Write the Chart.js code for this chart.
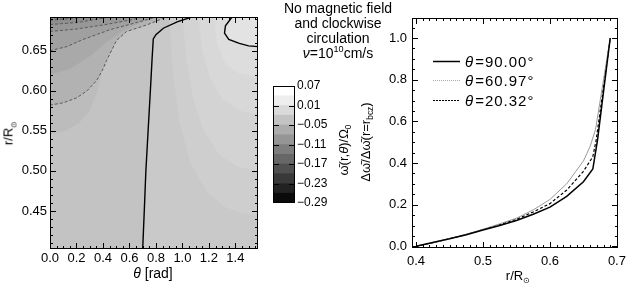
<!DOCTYPE html>
<html><head><meta charset="utf-8">
<script src="https://cdn.jsdelivr.net/npm/chart.js@4"></script>
<style>
html,body{margin:0;padding:0;background:#fff;}
#wrap{position:relative;width:632px;height:285px;overflow:hidden;font-family:"Liberation Sans",Arial,sans-serif;color:#000;}
.box{position:absolute;top:0;}
.t{position:absolute;white-space:nowrap;font-size:13px;line-height:1;}
.rot{transform:translate(-50%,-50%) rotate(-90deg);}
.ctr{transform:translate(-50%,-50%);}
.title{position:absolute;left:338px;top:1px;transform:translateX(-50%);text-align:center;font-size:14px;line-height:15px;white-space:nowrap;}
sub,sup{font-size:65%;line-height:0;}
i{font-style:italic;}
</style></head><body>
<div id="wrap">
  <div class="box" style="left:0;width:262px;height:285px"><canvas id="c1" width="262" height="285"></canvas></div>
  <div class="box" style="left:262px;width:78px;height:285px"><canvas id="c2" width="78" height="285"></canvas></div>
  <div class="box" style="left:350px;width:282px;height:285px"><canvas id="c3" width="282" height="285"></canvas></div>
  <div class="title">No magnetic field<br>and clockwise<br>circulation<br><i>ν</i>=10<sup>10</sup>cm/s</div>
  <div class="t ctr" style="left:153px;top:273px;font-size:14px"><i>θ</i> [rad]</div>
  <div class="t rot" style="left:8px;top:133px;font-size:13px">r/R<sub>⊙</sub></div>
  <div class="t ctr" style="left:518px;top:275px;font-size:13px">r/R<sub>⊙</sub></div>
  <div class="t rot" style="left:365px;top:142px;font-size:13px">Δω̄/Δω̄(r=r<sub>bcz</sub>)</div>
  <div class="t rot" style="left:343px;top:150px;font-size:13px">ω̄(r,<i>θ</i>)/Ω<sub>0</sub></div>
</div>
<script>
// ---------- data: left panel (contour lines in theta [rad], r/Rsun) ----------
const thetaRange = [0, 1.5708];
const rRange = [0.4026, 0.692];
const thetaTicks = [0.0, 0.2, 0.4, 0.6, 0.8, 1.0, 1.2, 1.4];
const rTicks = [0.45, 0.50, 0.55, 0.60, 0.65];

const zeroLine = [[0.700,0.4026],[0.712,0.45],[0.724,0.50],[0.741,0.55],[0.758,0.60],[0.771,0.64],[0.780,0.6646],[0.80,0.670],[0.856,0.678],[0.96,0.686],[1.07,0.692]];
const topRightLine = [[1.375,0.692],[1.325,0.681],[1.318,0.672],[1.35,0.664],[1.43,0.659],[1.50,0.656],[1.5708,0.655]];
const negLine1 = [[0,0.582],[0.10,0.585],[0.20,0.591],[0.28,0.600],[0.353,0.613],[0.40,0.627],[0.428,0.638],[0.47,0.652],[0.504,0.663],[0.579,0.674],[0.730,0.682],[0.88,0.692]];
const negLine2 = [[0,0.650],[0.126,0.655],[0.25,0.664],[0.45,0.676],[0.63,0.684],[0.806,0.692]];
const negLine3 = [[0,0.674],[0.2,0.677],[0.4,0.682],[0.6,0.688],[0.70,0.692]];
const negLine4 = [[0,0.6826],[0.2,0.685],[0.35,0.689],[0.45,0.692]];
const negLine5 = [[0,0.688],[0.15,0.690],[0.25,0.692]];
// intermediate filled-level boundaries (read from shading)
const bandLeft = [[0,0.545],[0.12,0.55],[0.22,0.56],[0.30,0.575],[0.36,0.60],[0.40,0.63],[0.44,0.66],[0.50,0.68],[0.56,0.692]];
const bandMid = [[0,0.62],[0.15,0.627],[0.30,0.643],[0.42,0.66],[0.55,0.675],[0.70,0.686],[0.78,0.692]];
const arcA = [[0.90,0.692],[0.93,0.62],[0.98,0.56],[1.06,0.51],[1.18,0.475],[1.32,0.455],[1.45,0.447],[1.5708,0.445]];
const arcB = [[1.00,0.692],[1.03,0.64],[1.08,0.59],[1.16,0.55],[1.28,0.52],[1.42,0.505],[1.5708,0.50]];
const arcC = [[1.12,0.692],[1.15,0.65],[1.21,0.615],[1.30,0.59],[1.43,0.575],[1.5708,0.57]];
const arcD = [[1.24,0.692],[1.26,0.66],[1.32,0.635],[1.42,0.622],[1.5708,0.617]];

// ---------- data: colour bar ----------
const cbLevels = [-0.29,-0.26,-0.23,-0.20,-0.17,-0.14,-0.11,-0.08,-0.05,-0.02,0.01,0.04,0.07];
const cbColors = ['#0a0a0a','#222222','#393939','#505050','#676767','#7e7e7e','#959595','#acacac','#c3c3c3','#dadada','#eeeeee','#ffffff'];
const cbTicks = [0.07, 0.01, -0.05, -0.11, -0.17, -0.23, -0.29];

// ---------- data: right panel ----------
const legendLabels = ['θ=90.00°','θ=60.97°','θ=20.32°'];
const rTicksRight = [0.4, 0.5, 0.6, 0.7];
const yTicksRight = [0.0, 0.2, 0.4, 0.6, 0.8, 1.0];
const r90 = [0.400,0.425,0.450,0.475,0.500,0.525,0.550,0.575,0.600,0.625,0.650,0.664,0.671,0.690];
const v90 = [0.000,0.018,0.036,0.056,0.078,0.100,0.124,0.154,0.188,0.240,0.310,0.371,0.510,1.000];
const r61 = [0.400,0.425,0.450,0.475,0.500,0.525,0.550,0.575,0.600,0.625,0.650,0.660,0.668,0.690];
const v61 = [0.000,0.018,0.037,0.058,0.082,0.108,0.135,0.175,0.225,0.300,0.410,0.480,0.560,1.000];
const r20 = [0.400,0.425,0.450,0.475,0.500,0.525,0.550,0.575,0.600,0.625,0.650,0.664,0.669,0.690];
const v20 = [0.000,0.018,0.036,0.057,0.080,0.104,0.130,0.165,0.205,0.270,0.360,0.430,0.510,1.000];

// ---------- helpers ----------
Chart.defaults.font.family = '"Liberation Sans", Arial, sans-serif';
Chart.defaults.font.size = 13;
Chart.defaults.color = '#000';
Chart.defaults.animation = false;

const pts = a => a.map(p => ({x: p[0], y: p[1]}));
const steps = (lo, hi, st) => { const o=[]; for (let v=lo; v<=hi+1e-9; v+=st) o.push(+v.toFixed(6)); return o; };
const minus = s => s.replace('-', '\u2212');

const frameTicks = {
  id: 'frameTicks',
  afterDatasetsDraw(chart, args, o) {
    if (!o || !o.on) return;
    const {ctx, chartArea: a, scales} = chart;
    ctx.save();
    ctx.strokeStyle = '#000'; ctx.lineWidth = 1;
    const xs = scales.x, ys = scales.y;
    const dx = (vals, len) => { if (!vals) return; for (const v of vals) { const p = Math.round(xs.getPixelForValue(v)) + 0.5; if (p < a.left || p > a.right) continue; ctx.beginPath(); ctx.moveTo(p, a.bottom); ctx.lineTo(p, a.bottom - len); ctx.moveTo(p, a.top); ctx.lineTo(p, a.top + len); ctx.stroke(); } };
    const dy = (vals, len) => { if (!vals) return; for (const v of vals) { const p = Math.round(ys.getPixelForValue(v)) + 0.5; if (p < a.top || p > a.bottom) continue; ctx.beginPath(); ctx.moveTo(a.left, p); ctx.lineTo(a.left + len, p); ctx.moveTo(a.right, p); ctx.lineTo(a.right - len, p); ctx.stroke(); } };
    dx(o.xMinor, 3); dx(o.xMajor, 6); dy(o.yMinor, 3); dy(o.yMajor, 6);
    ctx.lineWidth = o.frameWidth || 1;
    ctx.strokeRect(Math.round(a.left) + 0.5, Math.round(a.top) + 0.5, Math.round(a.right - a.left) - 1, Math.round(a.bottom - a.top) - 1);
    ctx.restore();
  }
};

const inLegend = {
  id: 'inLegend',
  afterDatasetsDraw(chart, args, o) {
    if (!o || !o.on) return;
    const {ctx, chartArea: a} = chart;
    chart.data.datasets.forEach((ds, i) => {
      const y = Math.round(a.top + o.rows[i]) + 0.5;
      ctx.save();
      ctx.strokeStyle = o.colors[i]; ctx.lineWidth = ds.borderWidth; ctx.setLineDash(o.dashes[i]);
      ctx.beginPath(); ctx.moveTo(a.left + o.x0, y); ctx.lineTo(a.left + o.x1, y); ctx.stroke();
      ctx.restore();
      ctx.save();
      ctx.fillStyle = '#000'; ctx.textBaseline = 'middle';
      if ('letterSpacing' in ctx) ctx.letterSpacing = '1px';
      let x = a.left + o.tx;
      ctx.font = 'italic 15px "Liberation Sans"';
      ctx.fillText(ds.label.charAt(0), x, y + 1);
      x += ctx.measureText(ds.label.charAt(0)).width + 1;
      ctx.font = '15px "Liberation Sans"';
      ctx.fillText(ds.label.slice(1), x, y + 1);
      ctx.restore();
    });
  }
};

// ---------- left panel ----------
const corner = [[thetaRange[1], rRange[1]]];
const topLeft = [[thetaRange[0], rRange[1]]];
const fills = [
  {d: [[0,rRange[0]],[thetaRange[1],rRange[0]],[thetaRange[1],rRange[1]],[0,rRange[1]]], c: '#c3c3c3'},
  {d: zeroLine.concat(corner, [[thetaRange[1], rRange[0]]]), c: '#c9c9c9'},
  {d: arcA.concat(corner), c: '#cecece'},
  {d: arcB.concat(corner), c: '#d3d3d3'},
  {d: arcC.concat(corner), c: '#d8d8d8'},
  {d: arcD.concat(corner), c: '#dddddd'},
  {d: topRightLine.concat(corner), c: '#e3e3e3'},
  {d: bandLeft.concat(topLeft), c: '#bcbcbc'},
  {d: negLine1.concat(topLeft), c: '#b2b2b2'},
  {d: bandMid.concat(topLeft), c: '#a9a9a9'},
  {d: negLine2.concat(topLeft), c: '#a0a0a0'},
  {d: negLine3.concat(topLeft), c: '#979797'},
  {d: negLine4.concat(topLeft), c: '#8e8e8e'},
  {d: negLine5.concat(topLeft), c: '#858585'}
];
const leftDatasets = [];
fills.forEach((f, i) => leftDatasets.push({data: pts(f.d), showLine: true, fill: 'shape', backgroundColor: f.c, borderWidth: 0, pointRadius: 0, order: 200 - i}));
[negLine1, negLine2, negLine3, negLine4, negLine5].forEach((l, i) => leftDatasets.push({data: pts(l), showLine: true, fill: false, borderColor: '#5a5a5a', borderWidth: 1, borderDash: [3, 2], pointRadius: 0, order: 50 - i}));
[zeroLine, topRightLine].forEach((l, i) => leftDatasets.push({data: pts(l), showLine: true, fill: false, borderColor: '#000', borderWidth: 1.4, pointRadius: 0, order: 10 - i}));

new Chart(document.getElementById('c1'), {
  type: 'scatter',
  data: {datasets: leftDatasets},
  options: {
    responsive: false, animation: false,
    layout: {padding: {top: 17, right: 4, left: 0, bottom: 0}},
    plugins: {legend: {display: false}, tooltip: {enabled: false},
      frameTicks: {on: true, xMajor: thetaTicks, xMinor: steps(0, 1.55, 0.05), yMajor: rTicks, yMinor: steps(0.41, 0.69, 0.01)}},
    scales: {
      x: {type: 'linear', min: thetaRange[0], max: thetaRange[1], grid: {display: false, drawTicks: false}, border: {display: false},
        afterFit: s => { s.height = 36; },
        afterBuildTicks: s => { s.ticks = thetaTicks.map(v => ({value: v})); },
        ticks: {padding: 2, autoSkip: false, maxRotation: 0, callback: v => v.toFixed(1)}},
      y: {type: 'linear', min: rRange[0], max: rRange[1], grid: {display: false, drawTicks: false}, border: {display: false},
        afterFit: s => { s.width = 50; },
        afterBuildTicks: s => { s.ticks = rTicks.map(v => ({value: v})); },
        ticks: {padding: 3, autoSkip: false, callback: v => v.toFixed(2)}}
    }
  },
  plugins: [frameTicks]
});

// ---------- colour bar ----------
const cbDatasets = cbColors.map((c, i) => ({data: [[cbLevels[i], cbLevels[i + 1]]], backgroundColor: c, borderWidth: 0, barPercentage: 1, categoryPercentage: 1, grouped: false}));
new Chart(document.getElementById('c2'), {
  type: 'bar',
  data: {labels: [''], datasets: cbDatasets},
  options: {
    responsive: false, animation: false,
    layout: {padding: {top: 86, left: 11, bottom: 82, right: 0}},
    plugins: {legend: {display: false}, tooltip: {enabled: false},
      frameTicks: {on: true, yMajor: cbTicks, frameWidth: 1}},
    scales: {
      x: {display: false},
      y: {position: 'right', min: cbLevels[0], max: cbLevels[cbLevels.length - 1], grid: {display: false, drawTicks: false}, border: {display: false},
        afterFit: s => { s.width = 45; },
        afterBuildTicks: s => { s.ticks = cbTicks.map(v => ({value: v})); },
        ticks: {padding: 2, autoSkip: false, font: {size: 12}, callback: v => minus(v.toFixed(2))}}
    }
  },
  plugins: [frameTicks]
});

// ---------- right panel ----------
const seriesR = [r90, r61, r20];
const seriesV = [v90, v61, v20];
const styles = [
  {borderColor: '#000', borderWidth: 1.5, borderDash: []},
  {borderColor: '#999999', borderWidth: 1, borderDash: []},
  {borderColor: '#000', borderWidth: 1.2, borderDash: [3, 2]}
];
const rightDatasets = legendLabels.map((lab, i) => Object.assign({label: lab, data: seriesR[i].map((r, k) => ({x: r, y: seriesV[i][k]})), showLine: true, fill: false, pointRadius: 0}, styles[i]));

new Chart(document.getElementById('c3'), {
  type: 'scatter',
  data: {datasets: rightDatasets},
  options: {
    responsive: false, animation: false,
    layout: {padding: {top: 18, right: 8, left: 0, bottom: 0}},
    plugins: {legend: {display: false}, tooltip: {enabled: false},
      frameTicks: {on: true, xMajor: rTicksRight, xMinor: steps(0.40, 0.70, 0.01), yMajor: yTicksRight, yMinor: steps(0, 1.05, 0.05)},
      inLegend: {on: true, rows: [43, 62, 82], x0: 21, x1: 48, tx: 53, colors: ['#000', '#aaaaaa', '#000'], dashes: [[], [1, 1], [2, 1]]}},
    scales: {
      x: {type: 'linear', min: 0.394, max: 0.7015, grid: {display: false, drawTicks: false}, border: {display: false},
        afterFit: s => { s.height = 37; },
        afterBuildTicks: s => { s.ticks = rTicksRight.map(v => ({value: v})); },
        ticks: {padding: 6, autoSkip: false, maxRotation: 0, callback: v => v.toFixed(1)}},
      y: {type: 'linear', min: -0.008, max: 1.096, grid: {display: false, drawTicks: false}, border: {display: false},
        afterFit: s => { s.width = 62; },
        afterBuildTicks: s => { s.ticks = yTicksRight.map(v => ({value: v})); },
        ticks: {padding: 5, autoSkip: false, callback: v => v.toFixed(1)}}
    }
  },
  plugins: [frameTicks, inLegend]
});
</script>
</body></html>
